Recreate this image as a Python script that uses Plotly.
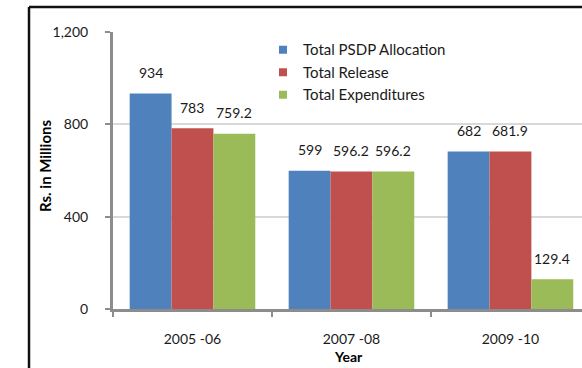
import plotly.graph_objects as go

# Financial years on the category axis
years = ["2005 -06", "2007 -08", "2009 -10"]

# Series values (Rs. in millions)
psdp_allocation = [934, 599, 682]
total_release = [783, 596.2, 681.9]
total_expenditures = [759.2, 596.2, 129.4]

series = [
    ("Total PSDP Allocation", psdp_allocation, "#4F81BD"),
    ("Total Release", total_release, "#C0504D"),
    ("Total Expenditures", total_expenditures, "#9BBB59"),
]

FONT = "Lato"
FS = 14
W, H = 582, 368
L, R, T, B = 113, 0, 32, 59
plot_w = W - L - R
plot_h = H - T - B

fig = go.Figure()
for name, vals, color in series:
    fig.add_trace(go.Bar(
        name=name, x=years, y=vals, showlegend=False,
        marker=dict(color=color, line=dict(width=0)),
    ))
# Legend entries with small square keys
for name, vals, color in series:
    fig.add_trace(go.Scatter(
        name=name, x=[None], y=[None], mode="markers",
        marker=dict(symbol="square", size=8, color=color),
    ))

# Value labels above each bar, offset to each bar's position within its group
cat_px = plot_w / 2.95
bar_px = cat_px * (1 - 0.21) / 3
for i, (name, vals, color) in enumerate(series):
    for year, v in zip(years, vals):
        fig.add_annotation(
            x=year, y=v, text=f"{v:g}", showarrow=False,
            xshift=(i - 1) * bar_px, yshift=21,
            font=dict(family=FONT, size=FS, color="#1a1a1a"),
        )

# Axis titles
fig.add_annotation(
    xref="paper", yref="paper", x=(45 - L) / plot_w, y=(H - B - 166) / plot_h,
    xanchor="center", yanchor="middle",
    text="<b>Rs. in Millions</b>", textangle=-90, showarrow=False,
    font=dict(family=FONT, size=15, color="#000"),
)
fig.add_annotation(
    xref="paper", yref="paper", x=(348 - L) / plot_w, y=(H - B - 356) / plot_h,
    xanchor="center", yanchor="middle",
    text="<b>Year</b>", showarrow=False,
    font=dict(family=FONT, size=14, color="#000"),
)

# Outer chart frame (left and top edges)
x0 = (29 - L) / plot_w
y_top = (H - B - 7) / plot_h
y_bot = (H - B - H - 5) / plot_h
fig.add_shape(type="line", xref="paper", yref="paper", x0=x0, x1=x0, y0=y_bot, y1=y_top,
              line=dict(color="#111", width=2.5))
fig.add_shape(type="line", xref="paper", yref="paper", x0=x0, x1=1.2, y0=y_top, y1=y_top,
              line=dict(color="#111", width=2.5))

fig.update_layout(
    width=W, height=H,
    margin=dict(l=L, r=R, t=T, b=B),
    paper_bgcolor="white", plot_bgcolor="white",
    barmode="group", bargap=0.21, bargroupgap=0,
    font=dict(family=FONT, size=FS, color="#1a1a1a"),
    showlegend=True,
    legend=dict(
        x=(263 - L) / plot_w, y=0.995, xanchor="left", yanchor="top",
        bgcolor="rgba(0,0,0,0)", font=dict(family=FONT, size=15, color="#1a1a1a"),
        itemwidth=30,
    ),
    xaxis=dict(
        type="category", range=[-0.5, 2.45],
        tickson="boundaries", ticks="outside", ticklen=5, tickwidth=2, tickcolor="#8c8c8c",
        showline=True, linecolor="#8c8c8c", linewidth=3,
        showgrid=False, ticklabelstandoff=15,
        tickfont=dict(family=FONT, size=FS, color="#1a1a1a"),
    ),
    yaxis=dict(
        range=[0, 1200], tickvals=[0, 400, 800, 1200], tickformat=",",
        ticks="outside", ticklen=5, tickwidth=2, tickcolor="#8c8c8c",
        showline=True, linecolor="#8c8c8c", linewidth=3,
        showgrid=True, gridcolor="#d9d9d9", gridwidth=2,
        zeroline=False, ticklabelstandoff=14,
        tickfont=dict(family=FONT, size=FS, color="#1a1a1a"),
    ),
)

fig.write_html("out.html")
